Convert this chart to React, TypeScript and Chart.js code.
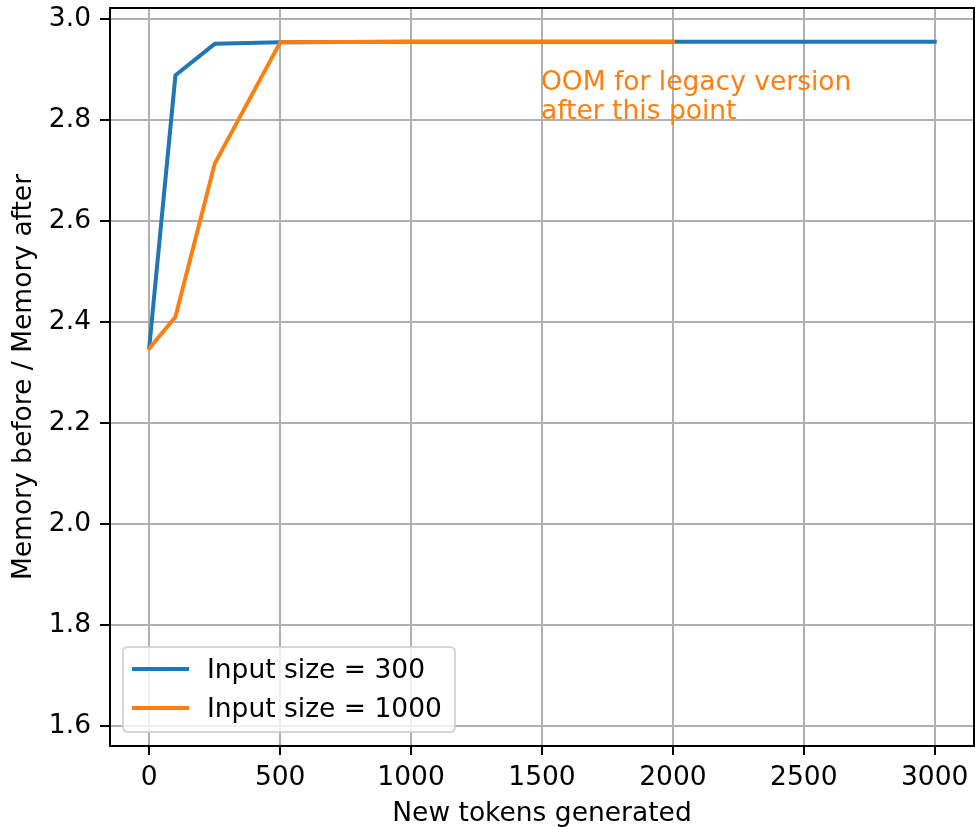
import React, { useEffect, useRef } from "react";
import { Chart, registerables } from "chart.js";

Chart.register(...registerables);

const blueX = [0, 100, 250, 500, 1000, 1500, 2000, 2500, 3000];
const blueY = [2.35, 2.888, 2.95, 2.953, 2.954, 2.954, 2.954, 2.954, 2.954];
const orangeX = [0, 100, 250, 500, 1000, 1500, 2000];
const orangeY = [2.347, 2.41, 2.713, 2.953, 2.954, 2.954, 2.954];
const seriesLabels = ["Input size = 300", "Input size = 1000"];
const xTicks = [0, 500, 1000, 1500, 2000, 2500, 3000];
const yTicks = [1.6, 1.8, 2.0, 2.2, 2.4, 2.6, 2.8, 3.0];
const annotationLines = ["OOM for legacy version", "after this point"];
const annotationX = 1500;
const annotationY = 2.8;

const BLUE = "#1f77b4";
const ORANGE = "#ff7f0e";
const FONT = "DejaVu Sans";
const FS = 26.5;

const overlayPlugin = {
  id: "overlay",
  afterDatasetsDraw(chart: any) {
    const ctx = chart.ctx;
    const { left, top, right, bottom } = chart.chartArea;
    const xs = chart.scales.x;
    const ys = chart.scales.y;
    ctx.save();
    // annotation
    ctx.fillStyle = ORANGE;
    ctx.font = `${FS}px "${FONT}"`;
    ctx.textAlign = "left";
    ctx.textBaseline = "alphabetic";
    const ax = xs.getPixelForValue(annotationX) - 1;
    const ay = ys.getPixelForValue(annotationY) - 1;
    ctx.fillText(annotationLines[0], ax, ay - 29);
    ctx.fillText(annotationLines[1], ax, ay);
    // spines
    ctx.strokeStyle = "#000";
    ctx.lineWidth = 2;
    ctx.strokeRect(left, top, right - left, bottom - top);
    // legend
    const bx = 123, by = 647, bw = 332, bh = 85, r = 5;
    ctx.beginPath();
    ctx.moveTo(bx + r, by);
    ctx.lineTo(bx + bw - r, by);
    ctx.quadraticCurveTo(bx + bw, by, bx + bw, by + r);
    ctx.lineTo(bx + bw, by + bh - r);
    ctx.quadraticCurveTo(bx + bw, by + bh, bx + bw - r, by + bh);
    ctx.lineTo(bx + r, by + bh);
    ctx.quadraticCurveTo(bx, by + bh, bx, by + bh - r);
    ctx.lineTo(bx, by + r);
    ctx.quadraticCurveTo(bx, by, bx + r, by);
    ctx.closePath();
    ctx.fillStyle = "rgba(255,255,255,0.8)";
    ctx.fill();
    ctx.strokeStyle = "rgba(204,204,204,0.8)";
    ctx.lineWidth = 2;
    ctx.stroke();
    const colors = [BLUE, ORANGE];
    const lineYs = [669, 708];
    const baseYs = [678, 717];
    ctx.lineWidth = 4;
    for (let i = 0; i < 2; i++) {
      ctx.strokeStyle = colors[i];
      ctx.beginPath();
      ctx.moveTo(132, lineYs[i]);
      ctx.lineTo(189, lineYs[i]);
      ctx.stroke();
      ctx.fillStyle = "#000";
      ctx.fillText(seriesLabels[i], 207, baseYs[i]);
    }
    ctx.restore();
  },
};

export default function App() {
  const ref = useRef<HTMLCanvasElement>(null);
  useEffect(() => {
    if (!ref.current) return;
    Chart.defaults.font.family = FONT;
    const chart = new Chart(ref.current, {
      type: "line",
      data: {
        datasets: [
          {
            label: seriesLabels[0],
            data: blueX.map((x, i) => ({ x, y: blueY[i] })),
            borderColor: BLUE,
            backgroundColor: BLUE,
            borderWidth: 4,
            pointRadius: 0,
            tension: 0,
            borderJoinStyle: "round",
            borderCapStyle: "square",
            order: 1,
          },
          {
            label: seriesLabels[1],
            data: orangeX.map((x, i) => ({ x, y: orangeY[i] })),
            borderColor: ORANGE,
            backgroundColor: ORANGE,
            borderWidth: 4,
            pointRadius: 0,
            tension: 0,
            borderJoinStyle: "round",
            borderCapStyle: "square",
            order: 0,
          },
        ],
      },
      options: {
        animation: false,
        responsive: false,
        devicePixelRatio: 1,
        layout: { padding: { top: 0, right: 1, left: 0, bottom: 0 } },
        plugins: { legend: { display: false }, tooltip: { enabled: false } },
        scales: {
          x: {
            type: "linear",
            min: -150,
            max: 3150,
            afterBuildTicks: (s: any) => {
              s.ticks = xTicks.map((v) => ({ value: v }));
            },
            afterFit: (s: any) => {
              s.height = 81;
              s.paddingLeft = 0;
              s.paddingRight = 0;
            },
            ticks: {
              color: "#000",
              font: { size: FS },
              padding: 7,
              maxRotation: 0,
              callback: (v: any) => String(v),
            },
            grid: {
              color: "#b0b0b0",
              lineWidth: 2,
              tickColor: "#000",
              tickWidth: 2,
              tickLength: 9,
            },
            border: { display: false },
            title: {
              display: true,
              text: "New tokens generated",
              color: "#000",
              font: { size: FS },
              padding: { top: 0, bottom: -3 },
            },
          },
          y: {
            type: "linear",
            min: 1.5604,
            max: 3.021,
            afterBuildTicks: (s: any) => {
              s.ticks = yTicks.map((v) => ({ value: v }));
            },
            afterFit: (s: any) => {
              s.width = 110;
              s.paddingTop = 8;
              s.paddingBottom = 0;
            },
            ticks: {
              color: "#000",
              font: { size: FS },
              padding: 9,
              callback: (v: any) => Number(v).toFixed(1),
            },
            grid: {
              color: "#b0b0b0",
              lineWidth: 2,
              tickColor: "#000",
              tickWidth: 2,
              tickLength: 10,
            },
            border: { display: false },
            title: {
              display: true,
              text: "Memory before / Memory after",
              color: "#000",
              font: { size: FS },
              padding: { top: 8, bottom: 0 },
            },
          },
        },
      },
      plugins: [overlayPlugin],
    } as any);
    return () => chart.destroy();
  }, []);
  return (
    <div style={{ position: "absolute", left: 0, top: 0, width: 975, height: 827 }}>
      <canvas ref={ref} width={975} height={827} style={{ width: 975, height: 827 }} />
    </div>
  );
}
